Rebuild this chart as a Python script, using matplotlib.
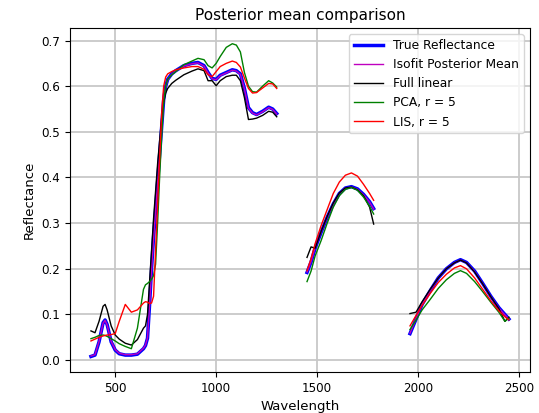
import numpy as np
import matplotlib
matplotlib.use('Agg')
import matplotlib.pyplot as plt

# wavelength samples (nm) for the three windows between water bands
wl_vis = [380, 400, 420, 440, 450, 460, 480, 500, 520, 550, 580, 610, 640, 650, 660, 670,
          680, 690, 700, 710, 720, 730, 740, 750, 760, 780, 800, 840, 880, 910, 940, 960,
          980, 1000, 1020, 1050, 1080, 1100, 1120, 1140, 1160, 1180, 1200, 1230, 1260, 1280, 1300]
wl_swir1 = [1450, 1470, 1490, 1520, 1550, 1580, 1610, 1640, 1670, 1700, 1730, 1760, 1780]
wl_swir2 = [1960, 1990, 2020, 2060, 2100, 2140, 2180, 2210, 2240, 2280, 2320, 2360, 2400, 2430, 2450]

true_vis = [0.008, 0.011, 0.040, 0.082, 0.088, 0.078, 0.040, 0.022, 0.014, 0.011, 0.011, 0.013, 0.025, 0.032,
            0.048, 0.120, 0.200, 0.270, 0.330, 0.390, 0.450, 0.510, 0.570, 0.600, 0.615, 0.627, 0.634, 0.645,
            0.650, 0.652, 0.645, 0.630, 0.617, 0.615, 0.624, 0.630, 0.636, 0.634, 0.627, 0.595, 0.553, 0.542,
            0.538, 0.545, 0.554, 0.550, 0.540]
isofit_vis = [0.009, 0.012, 0.041, 0.081, 0.087, 0.077, 0.041, 0.023, 0.015, 0.012, 0.012, 0.014, 0.026, 0.033,
              0.049, 0.118, 0.198, 0.268, 0.328, 0.388, 0.449, 0.509, 0.569, 0.599, 0.614, 0.626, 0.633, 0.644,
              0.649, 0.651, 0.644, 0.629, 0.616, 0.614, 0.623, 0.629, 0.635, 0.633, 0.626, 0.594, 0.552, 0.541,
              0.537, 0.544, 0.553, 0.549, 0.539]
linear_vis = [0.064, 0.060, 0.085, 0.118, 0.122, 0.110, 0.075, 0.055, 0.046, 0.037, 0.033, 0.045, 0.070, 0.075,
              0.100, 0.170, 0.240, 0.310, 0.370, 0.430, 0.480, 0.530, 0.565, 0.585, 0.595, 0.606, 0.613, 0.625,
              0.633, 0.638, 0.634, 0.612, 0.612, 0.601, 0.612, 0.621, 0.624, 0.624, 0.612, 0.575, 0.527, 0.528,
              0.530, 0.536, 0.545, 0.543, 0.533]
pca_vis = [0.047, 0.050, 0.054, 0.055, 0.054, 0.052, 0.047, 0.042, 0.036, 0.030, 0.025, 0.070, 0.155, 0.165,
           0.168, 0.172, 0.177, 0.185, 0.210, 0.300, 0.400, 0.490, 0.565, 0.600, 0.615, 0.625, 0.632, 0.647,
           0.655, 0.661, 0.658, 0.645, 0.640, 0.650, 0.665, 0.685, 0.693, 0.690, 0.675, 0.630, 0.600, 0.588,
           0.587, 0.600, 0.612, 0.607, 0.598]
lis_vis = [0.042, 0.046, 0.050, 0.053, 0.054, 0.055, 0.056, 0.058, 0.085, 0.122, 0.105, 0.110, 0.125, 0.128,
           0.127, 0.124, 0.125, 0.140, 0.240, 0.340, 0.440, 0.540, 0.600, 0.620, 0.627, 0.632, 0.636, 0.640,
           0.643, 0.643, 0.637, 0.625, 0.621, 0.632, 0.643, 0.650, 0.655, 0.652, 0.642, 0.618, 0.595, 0.585,
           0.586, 0.596, 0.606, 0.605, 0.595]

true_swir1 = [0.192, 0.215, 0.245, 0.280, 0.313, 0.342, 0.365, 0.377, 0.380, 0.375, 0.363, 0.347, 0.332]
isofit_swir1 = [0.193, 0.216, 0.246, 0.281, 0.313, 0.342, 0.365, 0.377, 0.379, 0.374, 0.362, 0.346, 0.331]
linear_swir1 = [0.225, 0.248, 0.245, 0.282, 0.315, 0.344, 0.366, 0.377, 0.379, 0.373, 0.360, 0.335, 0.298]
pca_swir1 = [0.172, 0.195, 0.228, 0.262, 0.300, 0.335, 0.360, 0.374, 0.378, 0.372, 0.357, 0.337, 0.320]
lis_swir1 = [0.196, 0.222, 0.255, 0.295, 0.330, 0.365, 0.390, 0.405, 0.410, 0.403, 0.385, 0.365, 0.350]

true_swir2 = [0.058, 0.090, 0.122, 0.152, 0.180, 0.200, 0.214, 0.220, 0.214, 0.195, 0.168, 0.140, 0.115, 0.100, 0.090]
isofit_swir2 = [0.059, 0.091, 0.122, 0.152, 0.180, 0.200, 0.213, 0.219, 0.213, 0.194, 0.167, 0.139, 0.114, 0.099, 0.090]
linear_swir2 = [0.102, 0.105, 0.128, 0.155, 0.180, 0.200, 0.213, 0.219, 0.213, 0.193, 0.167, 0.139, 0.113, 0.085, 0.094]
pca_swir2 = [0.067, 0.088, 0.110, 0.133, 0.157, 0.176, 0.190, 0.196, 0.190, 0.172, 0.150, 0.127, 0.105, 0.085, 0.092]
lis_swir2 = [0.075, 0.098, 0.120, 0.146, 0.170, 0.188, 0.202, 0.207, 0.200, 0.180, 0.155, 0.130, 0.108, 0.095, 0.088]

windows = [wl_vis, wl_swir1, wl_swir2]
series = [
    ('True Reflectance', [true_vis, true_swir1, true_swir2], 'b', 2.5),
    ('Isofit Posterior Mean', [isofit_vis, isofit_swir1, isofit_swir2], 'm', 1.0),
    ('Full linear', [linear_vis, linear_swir1, linear_swir2], 'k', 1.0),
    ('PCA, r = 5', [pca_vis, pca_swir1, pca_swir2], 'g', 1.0),
    ('LIS, r = 5', [lis_vis, lis_swir1, lis_swir2], 'r', 1.0),
]

fig = plt.figure(figsize=(5.39, 4.13), dpi=100)
ax = fig.add_axes([0.13, 0.099, 0.853, 0.833])

for name, vals, color, lw in series:
    for i, (wl, v) in enumerate(zip(windows, vals)):
        ax.plot(wl, v, color=color, lw=lw, label=name if i == 0 else None)

ax.grid(True, color='#c8c8c8', lw=1.3)
ax.set_xticks([500, 1000, 1500, 2000, 2500])
ax.tick_params(labelsize=8.6)
ax.set_title('Posterior mean comparison', fontsize=11)
ax.set_xlabel('Wavelength', fontsize=9.5)
ax.set_ylabel('Reflectance', fontsize=9.5)
ax.legend(loc='upper right', fontsize=8.8, handlelength=2.4)

fig.savefig('out.png', dpi=100)
